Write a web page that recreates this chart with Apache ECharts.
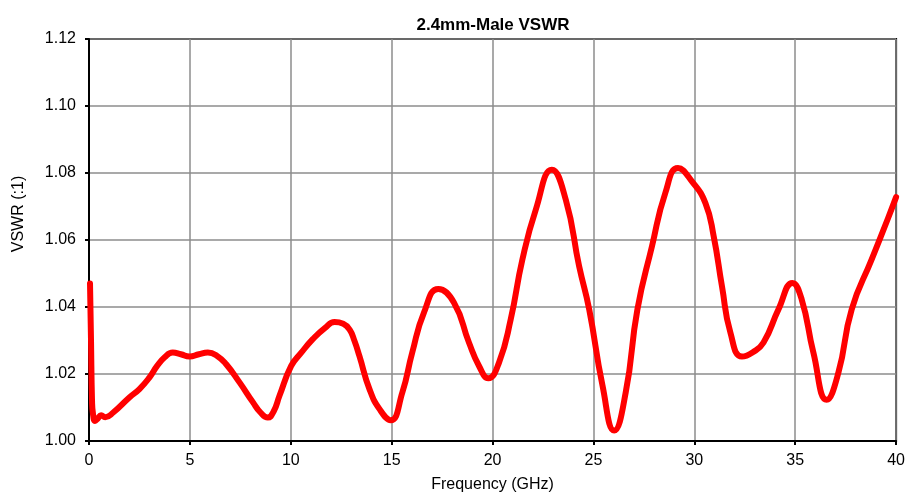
<!DOCTYPE html>
<html>
<head>
<meta charset="utf-8">
<script src="https://cdn.jsdelivr.net/npm/echarts@6/dist/echarts.min.js"></script>
<style>
html,body{margin:0;padding:0;background:#fff;}
#chart{width:908px;height:498px;}
</style>
</head>
<body>
<div id="chart"></div>
<script>
const chartTitle = '2.4mm-Male VSWR';
const xAxisName = 'Frequency (GHz)';
const yAxisName = 'VSWR (:1)';
const xTicks = [0, 5, 10, 15, 20, 25, 30, 35, 40];
const yTicks = [1.00, 1.02, 1.04, 1.06, 1.08, 1.10, 1.12];

const freq = [0.05, 0.1, 0.15, 0.2, 0.3, 0.45, 0.6, 0.8, 1.2, 2.0, 2.5, 3.0, 3.35, 3.75, 4.15, 4.55, 4.98, 5.45, 5.89, 6.35, 6.8, 7.46, 8.12, 8.5, 8.86, 9.15, 9.44, 10.02, 10.5, 11.09, 11.7, 12.17, 12.6, 12.91, 13.15, 13.4, 13.9, 14.4, 14.95, 15.53, 16.02, 16.6, 17.31, 18.09, 18.83, 19.33, 19.79, 20.32, 20.9, 21.48, 22.14, 22.94, 23.63, 24.29, 24.79, 25.45, 26.03, 26.6, 27.18, 27.9, 28.56, 29.19, 29.88, 30.55, 30.96, 31.37, 31.79, 32.36, 32.9, 33.43, 34.17, 34.86, 35.32, 35.9, 36.56, 37.14, 37.8, 38.79, 39.6, 40.0];
const vswr = [1.047, 1.030, 1.012, 1.008, 1.006, 1.0068, 1.0077, 1.0071, 1.0085, 1.013, 1.0155, 1.019, 1.0222, 1.0250, 1.0264, 1.0259, 1.0252, 1.0259, 1.0264, 1.0254, 1.0229, 1.0175, 1.0116, 1.0085, 1.0070, 1.0088, 1.0135, 1.0224, 1.0262, 1.0304, 1.0338, 1.0355, 1.0350, 1.0333, 1.0300, 1.0254, 1.0155, 1.0095, 1.0062, 1.0145, 1.0264, 1.0383, 1.0454, 1.0413, 1.0294, 1.0224, 1.0187, 1.0234, 1.0363, 1.0542, 1.069, 1.081, 1.072, 1.0522, 1.0393, 1.0165, 1.0031, 1.0145, 1.0393, 1.0581, 1.074, 1.0815, 1.0775, 1.071, 1.0611, 1.0462, 1.0323, 1.0252, 1.0265, 1.0294, 1.0393, 1.0472, 1.0423, 1.0264, 1.0123, 1.0204, 1.0393, 1.0542, 1.0665, 1.0728];

const FONT = "'Liberation Sans', Arial, sans-serif";
const chart = echarts.init(document.getElementById('chart'), null, {renderer: 'canvas'});
const seriesData = freq.map((f, i) => [f, vswr[i]]);

chart.setOption({
  animation: false,
  backgroundColor: '#ffffff',
  title: {
    text: chartTitle,
    left: 488,
    top: 12,
    textAlign: 'center',
    textStyle: {fontFamily: FONT, fontSize: 17, fontWeight: 'bold', color: '#000'}
  },
  grid: {
    left: 89, right: 11, top: 39, bottom: 56,
    show: true, borderColor: '#000', borderWidth: 2, backgroundColor: 'transparent'
  },
  xAxis: {
    type: 'value',
    min: xTicks[0], max: xTicks[xTicks.length - 1], interval: 5,
    name: xAxisName,
    nameLocation: 'middle',
    nameGap: 36,
    nameTextStyle: {fontFamily: FONT, fontSize: 16, color: '#000'},
    axisLine: {show: true, lineStyle: {color: '#000', width: 2}},
    axisTick: {show: true, inside: false, length: 4, lineStyle: {color: '#000', width: 2}},
    axisLabel: {fontFamily: FONT, fontSize: 16, color: '#000', margin: 12},
    splitLine: {show: true, lineStyle: {color: '#8c8c8c', width: 1.5}}
  },
  yAxis: {
    type: 'value',
    min: yTicks[0], max: yTicks[yTicks.length - 1], interval: 0.02,
    axisLine: {show: true, lineStyle: {color: '#000', width: 2}},
    axisTick: {show: true, inside: false, length: 4, lineStyle: {color: '#000', width: 2}},
    axisLabel: {fontFamily: FONT, fontSize: 16, color: '#000', margin: 13,
      formatter: v => v.toFixed(2)},
    splitLine: {show: true, lineStyle: {color: '#8c8c8c', width: 1.5}}
  },
  graphic: [{
    type: 'text',
    x: 19, y: 214,
    rotation: Math.PI / 2,
    style: {text: yAxisName, font: '16px ' + FONT, fill: '#000', textAlign: 'center', textVerticalAlign: 'middle'}
  }],
  series: [{
    type: 'line',
    data: seriesData,
    showSymbol: false,
    symbol: 'none',
    smooth: 0.5,
    lineStyle: {color: '#ff0000', width: 6, cap: 'round', join: 'round'},
    itemStyle: {color: '#ff0000'}
  }]
});
</script>
</body>
</html>
